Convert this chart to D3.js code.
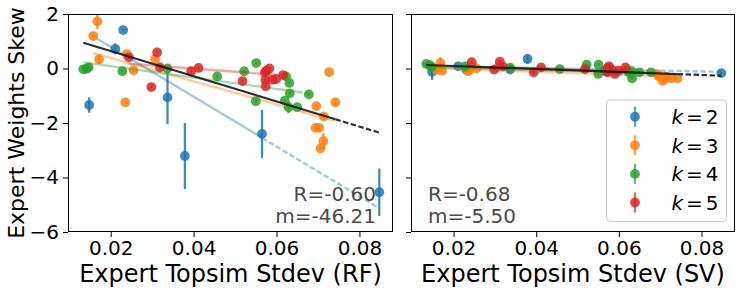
<!DOCTYPE html>
<html><head><meta charset="utf-8">
<script src="https://cdn.jsdelivr.net/npm/d3@7"></script>
<style>body{margin:0;background:#fff}svg{display:block}text{font-family:"DejaVu Sans",sans-serif}</style>
</head><body><svg id="c" width="744" height="293"></svg>
<script>
const seriesNames = ["2", "3", "4", "5"];
const colors = ["#1f77b4", "#ff7f0e", "#2ca02c", "#d62728"];
const xTicks = [0.02, 0.04, 0.06, 0.08];
const yTicks = [2, 0, -2, -4, -6];

const x2 = [0.0148, 0.0211, 0.0230, 0.0337, 0.0379, 0.0565, 0.0848];
const yRF2 = [-1.34, 0.72, 1.41, -1.06, -3.21, -2.40, -4.54];
const eRF2 = [0.28, 0.2, 0.05, 0.98, 1.21, 0.88, 0.87];
const ySV2 = [-0.12, 0.08, -0.02, -0.04, 0.35, -0.08, -0.17];
const eSV2 = [0.3, 0.05, 0.05, 0.05, 0.18, 0.05, 0.05];

const x3 = [0.0158, 0.0168, 0.0172, 0.0235, 0.0239, 0.0255, 0.0307, 0.0694, 0.0696, 0.0703, 0.0706, 0.0713, 0.0714, 0.0727, 0.0742];
const yRF3 = [1.19, 1.73, 0.34, -1.24, 0.53, -0.07, 0.34, -2.18, -1.38, -2.18, -2.93, -2.67, -1.76, -0.13, -1.24];
const eRF3 = [0.05, 0.28, 0.15, 0.05, 0.05, 0.05, 0.05, 0.05, 0.05, 0.05, 0.05, 0.3, 0.12, 0.05, 0.15];
const ySV3 = [-0.04, 0.20, -0.08, -0.10, -0.04, 0.01, 0.05, -0.22, -0.28, -0.32, -0.45, -0.36, -0.30, -0.36, -0.36];
const eSV3 = [0.05, 0.22, 0.05, 0.05, 0.05, 0.05, 0.05, 0.05, 0.05, 0.05, 0.05, 0.05, 0.05, 0.05, 0.05];

const x4 = [0.0134, 0.0142, 0.0147, 0.0228, 0.0337, 0.0457, 0.0522, 0.0550, 0.0551, 0.0620, 0.0623, 0.0629, 0.0631, 0.0632, 0.0650, 0.0678];
const yRF4 = [-0.03, -0.01, 0.04, -0.10, 0.00, -0.29, -0.10, -1.20, 0.20, -1.18, -0.29, -1.42, -0.53, -0.91, -1.42, -0.95];
const eRF4 = [0.05, 0.05, 0.05, 0.05, 0.05, 0.05, 0.05, 0.05, 0.05, 0.05, 0.05, 0.22, 0.05, 0.05, 0.05, 0.05];
const ySV4 = [0.17, 0.12, 0.06, 0.08, 0.03, -0.02, 0.14, -0.20, 0.14, -0.05, -0.12, -0.20, -0.10, -0.36, -0.14, -0.14];
const eSV4 = [0.05, 0.05, 0.05, 0.05, 0.05, 0.05, 0.05, 0.05, 0.05, 0.05, 0.05, 0.05, 0.05, 0.05, 0.05, 0.05];

const x5 = [0.0244, 0.0298, 0.0312, 0.0319, 0.0394, 0.0412, 0.0518, 0.0572, 0.0573, 0.0574, 0.0576, 0.0583, 0.0590, 0.0599, 0.0616];
const yRF5 = [0.41, -0.68, 0.59, 0.04, -0.10, 0.02, -0.46, -0.14, -0.41, -0.65, -0.08, 0.00, -0.41, -0.39, -0.24];
const eRF5 = [0.05, 0.05, 0.05, 0.05, 0.05, 0.05, 0.05, 0.05, 0.05, 0.05, 0.05, 0.05, 0.05, 0.05, 0.05];
const ySV5 = [0.23, -0.04, 0.25, 0.08, -0.14, 0.04, -0.02, -0.14, 0.02, -0.10, 0.08, -0.04, -0.20, -0.08, 0.04];
const eSV5 = [0.05, 0.05, 0.05, 0.05, 0.05, 0.05, 0.05, 0.05, 0.05, 0.05, 0.05, 0.05, 0.05, 0.05, 0.05];

// fitted lines [slope, intercept]
const fitRF = [[-91.4, 2.62], [-42.6, 1.235], [-20.9, 0.504], [-11.5, 0.457]];
const fitAllRF = [-46.21, 1.565];
const fitSV = [[-3.0, 0.134], [-5.2, 0.09], [-3.8, 0.10], [-4.0, 0.15]];
const fitAllSV = [-5.50, 0.202];
const statsRF = ["R=-0.60", "m=-46.21"];
const statsSV = ["R=-0.68", "m=-5.50"];
const xLabels = ["Expert Topsim Stdev (RF)", "Expert Topsim Stdev (SV)"];
const yLabel = "Expert Weights Skew";

const xs = [x2, x3, x4, x5];
const panels = [
  {x0: 68, x1: 393, ys: [yRF2, yRF3, yRF4, yRF5], es: [eRF2, eRF3, eRF4, eRF5], fits: fitRF, all: fitAllRF, stats: statsRF, label: xLabels[0], statsRight: true, yLabels: true},
  {x0: 411, x1: 735, ys: [ySV2, ySV3, ySV4, ySV5], es: [eSV2, eSV3, eSV4, eSV5], fits: fitSV, all: fitAllSV, stats: statsSV, label: xLabels[1], statsRight: false, yLabels: false}
];
const yTop = 14, yBot = 232;
const svg = d3.select("#c");
const y = d3.scaleLinear().domain([-6, 2]).range([yBot, yTop]);
const fmt = d => d < 0 ? "\u2212" + Math.abs(d) : String(d);

function lineSeg(g, x, xsArr, fit, color, width, opacity) {
  const sorted = Array.from(new Set(xsArr)).sort((a, b) => a - b);
  const lo = sorted[0], hi = sorted[sorted.length - 1], mid = sorted[sorted.length - 2];
  const f = v => fit[0] * v + fit[1];
  g.append("line").attr("x1", x(lo)).attr("y1", y(f(lo))).attr("x2", x(mid)).attr("y2", y(f(mid)))
    .attr("stroke", color).attr("stroke-width", width).attr("opacity", opacity);
  g.append("line").attr("x1", x(mid)).attr("y1", y(f(mid))).attr("x2", x(hi)).attr("y2", y(f(hi)))
    .attr("stroke", color).attr("stroke-width", width).attr("opacity", opacity).attr("stroke-dasharray", "5.5,2.5");
}

panels.forEach((p, pi) => {
  const x = d3.scaleLinear().domain([0.0097, 0.0881]).range([p.x0, p.x1]);
  const clipId = "clip" + pi;
  svg.append("clipPath").attr("id", clipId).append("rect")
    .attr("x", p.x0).attr("y", yTop).attr("width", p.x1 - p.x0).attr("height", yBot - yTop);
  const g = svg.append("g").attr("clip-path", `url(#${clipId})`);
  xs.forEach((xArr, si) => {
    const c = colors[si];
    const sg = g.append("g");
    xArr.forEach((xv, i) => {
      const yv = p.ys[si][i], ev = p.es[si][i];
      sg.append("line").attr("x1", x(xv)).attr("x2", x(xv)).attr("y1", y(yv - ev)).attr("y2", y(yv + ev))
        .attr("stroke", c).attr("stroke-width", 2.3).attr("opacity", 0.85);
      sg.append("circle").attr("cx", x(xv)).attr("cy", y(yv)).attr("r", 4.9).attr("fill", c).attr("opacity", 0.85);
    });
    lineSeg(g, x, xArr, p.fits[si], c, 2.4, 0.4);
  });
  lineSeg(g, x, [].concat(...xs), p.all, "#1a1a1a", 2.2, 0.9);

  svg.append("rect").attr("x", p.x0 + 0.5).attr("y", yTop + 0.5).attr("width", p.x1 - p.x0 - 1).attr("height", yBot - yTop - 1)
    .attr("fill", "none").attr("stroke", "#000").attr("stroke-width", 1);
  const ax = svg.append("g").attr("transform", `translate(0,${yBot})`)
    .call(d3.axisBottom(x).tickValues(xTicks).tickSize(5).tickPadding(4).tickFormat(d3.format(".2f")));
  ax.select(".domain").remove();
  ax.selectAll("text").attr("font-size", 20).attr("font-family", "DejaVu Sans").attr("fill", "#000");
  ax.selectAll("line").attr("stroke", "#000");
  const ay = svg.append("g").attr("transform", `translate(${p.x0},0)`)
    .call(d3.axisLeft(y).tickValues(yTicks).tickSize(5).tickPadding(4).tickFormat(p.yLabels ? fmt : () => ""));
  ay.select(".domain").remove();
  ay.selectAll("text").attr("font-size", 20).attr("font-family", "DejaVu Sans").attr("fill", "#000");
  ay.selectAll("line").attr("stroke", "#000");

  svg.append("text").attr("x", (p.x0 + p.x1) / 2).attr("y", 282).attr("text-anchor", "middle")
    .attr("font-size", 24).text(p.label);

  p.stats.forEach((s, i) => {
    svg.append("text").attr("x", p.statsRight ? 376 : 428).attr("y", 201 + i * 22)
      .attr("text-anchor", p.statsRight ? "end" : "start").attr("font-size", 20).attr("fill", "#4a4a4a").text(s);
  });
});

svg.append("text").attr("transform", `translate(24,${(yTop + yBot) / 2}) rotate(-90)`).attr("text-anchor", "middle")
  .attr("font-size", 22).text(yLabel);

const lg = svg.append("g");
lg.append("rect").attr("x", 606.5).attr("y", 100).attr("width", 120).attr("height", 121.5).attr("rx", 4)
  .attr("fill", "#fff").attr("fill-opacity", 0.8).attr("stroke", "#ccc");
seriesNames.forEach((n, i) => {
  const cy = 116.7 + i * 28.6;
  lg.append("line").attr("x1", 635).attr("x2", 635).attr("y1", cy - 10).attr("y2", cy + 10)
    .attr("stroke", colors[i]).attr("stroke-width", 2.3).attr("opacity", 0.7);
  lg.append("circle").attr("cx", 635).attr("cy", cy).attr("r", 4.9).attr("fill", colors[i]).attr("opacity", 0.85);
  const t = lg.append("text").attr("x", 671.5).attr("y", cy + 7.3).attr("font-size", 20);
  t.append("tspan").attr("font-style", "italic").text("k");
  t.append("tspan").attr("dx", 3).text("=");
  t.append("tspan").attr("dx", 3).text(n);
});
</script></body></html>
